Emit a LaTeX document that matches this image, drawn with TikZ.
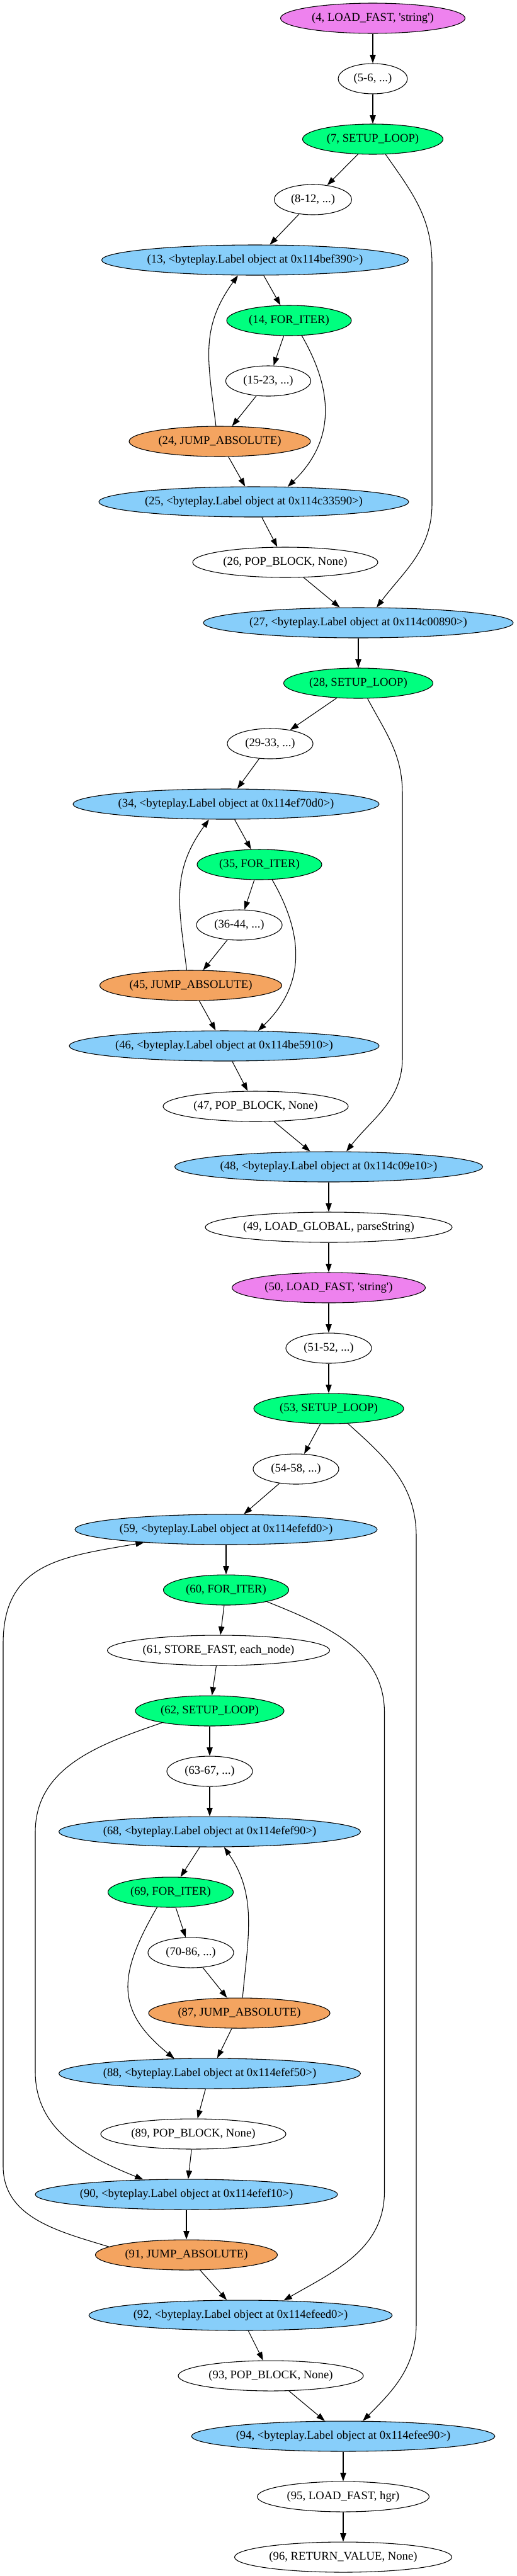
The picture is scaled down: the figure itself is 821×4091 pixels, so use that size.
\documentclass[tikz,border=0pt]{standalone}
\usepackage{fontspec}
\setmainfont{Liberation Serif}[Ligatures=TeXOff]
\usepackage{xcolor}
\usepackage{tikz}
\usetikzlibrary{arrows.meta,shapes.geometric}
\definecolor{opviolet}{HTML}{EE82EE}
\definecolor{opgreen}{HTML}{00FF7F}
\definecolor{opblue}{HTML}{87CEFA}
\definecolor{oporange}{HTML}{F4A460}

\begin{document}
\begin{tikzpicture}[x=0.75pt, y=-0.75pt, >={Triangle[length=10pt,width=7pt]},
  op/.style={ellipse, draw, line width=0.8pt, inner sep=0pt, minimum height=36pt, font=\fontsize{14}{16}\selectfont},
  wd/.style={minimum width=#1*0.75pt},
  plainop/.style={op, fill=white},
  loadop/.style={op, fill=opviolet},
  loopop/.style={op, fill=opgreen},
  labelop/.style={op, fill=opblue},
  jumpop/.style={op, fill=oporange},
  flow/.style={->, line width=0.8pt}]
  \useasboundingbox (0,0) rectangle (821,4091);

  \node[loadop, wd=293] (n4) at (592,29) {(4, LOAD\_FAST, 'string')};
  \node[plainop, wd=110] (n5) at (592,125) {(5-6, ...)};
  \node[loopop, wd=223] (n7) at (592,221) {(7, SETUP\_LOOP)};
  \node[plainop, wd=123] (n8) at (497,317) {(8-12, ...)};
  \node[labelop, wd=487] (n13) at (405,413) {(13, <byteplay.Label object at 0x114bef390>)};
  \node[loopop, wd=198] (n14) at (459,509) {(14, FOR\_ITER)};
  \node[plainop, wd=135] (n15) at (426,605) {(15-23, ...)};
  \node[jumpop, wd=288] (n24) at (349,701) {(24, JUMP\_ABSOLUTE)};
  \node[labelop, wd=492] (n25) at (403,797) {(25, <byteplay.Label object at 0x114c33590>)};
  \node[plainop, wd=294] (n26) at (453,893) {(26, POP\_BLOCK, None)};
  \node[labelop, wd=492] (n27) at (569,989) {(27, <byteplay.Label object at 0x114c00890>)};
  \node[loopop, wd=237] (n28) at (569,1085) {(28, SETUP\_LOOP)};
  \node[plainop, wd=136] (n29) at (429,1181) {(29-33, ...)};
  \node[labelop, wd=486] (n34) at (359,1277) {(34, <byteplay.Label object at 0x114ef70d0>)};
  \node[loopop, wd=198] (n35) at (412,1373) {(35, FOR\_ITER)};
  \node[plainop, wd=136] (n36) at (380,1469) {(36-44, ...)};
  \node[jumpop, wd=289] (n45) at (303,1565) {(45, JUMP\_ABSOLUTE)};
  \node[labelop, wd=492] (n46) at (356,1661) {(46, <byteplay.Label object at 0x114be5910>)};
  \node[plainop, wd=294] (n47) at (406,1757) {(47, POP\_BLOCK, None)};
  \node[labelop, wd=489] (n48) at (522,1853) {(48, <byteplay.Label object at 0x114c09e10>)};
  \node[plainop, wd=392] (n49) at (522,1949) {(49, LOAD\_GLOBAL, parseString)};
  \node[loadop, wd=307] (n50) at (522,2045) {(50, LOAD\_FAST, 'string')};
  \node[plainop, wd=136] (n51) at (522,2141) {(51-52, ...)};
  \node[loopop, wd=238] (n53) at (522,2237) {(53, SETUP\_LOOP)};
  \node[plainop, wd=136] (n54) at (470,2333) {(54-58, ...)};
  \node[labelop, wd=480] (n59) at (359,2429) {(59, <byteplay.Label object at 0x114efefd0>)};
  \node[loopop, wd=199] (n60) at (359,2525) {(60, FOR\_ITER)};
  \node[plainop, wd=353] (n61) at (347,2621) {(61, STORE\_FAST, each\_node)};
  \node[loopop, wd=236] (n62) at (333,2717) {(62, SETUP\_LOOP)};
  \node[plainop, wd=136] (n63) at (333,2813) {(63-67, ...)};
  \node[labelop, wd=479] (n68) at (333,2909) {(68, <byteplay.Label object at 0x114efef90>)};
  \node[loopop, wd=199] (n69) at (271,3005) {(69, FOR\_ITER)};
  \node[plainop, wd=136] (n70) at (303,3101) {(70-86, ...)};
  \node[jumpop, wd=288] (n87) at (380,3197) {(87, JUMP\_ABSOLUTE)};
  \node[labelop, wd=479] (n88) at (333,3293) {(88, <byteplay.Label object at 0x114efef50>)};
  \node[plainop, wd=294] (n89) at (307,3389) {(89, POP\_BLOCK, None)};
  \node[labelop, wd=480] (n90) at (296,3485) {(90, <byteplay.Label object at 0x114efef10>)};
  \node[jumpop, wd=289] (n91) at (296,3581) {(91, JUMP\_ABSOLUTE)};
  \node[labelop, wd=481] (n92) at (382,3677) {(92, <byteplay.Label object at 0x114efeed0>)};
  \node[plainop, wd=294] (n93) at (430,3773) {(93, POP\_BLOCK, None)};
  \node[labelop, wd=481] (n94) at (545,3869) {(94, <byteplay.Label object at 0x114efee90>)};
  \node[plainop, wd=273] (n95) at (545,3965) {(95, LOAD\_FAST, hgr)};
  \node[plainop, wd=345] (n96) at (545,4061) {(96, RETURN\_VALUE, None)};

  % straight flow
  \draw[flow] (n4) -- (n5);
  \draw[flow] (n5) -- (n7);
  \draw[flow] (n7) -- (n8);
  \draw[flow] (n8) -- (n13);
  \draw[flow] (n13) -- (n14);
  \draw[flow] (n14) -- (n15);
  \draw[flow] (n15) -- (n24);
  \draw[flow] (n24) -- (n25);
  \draw[flow] (n25) -- (n26);
  \draw[flow] (n26) -- (n27);
  \draw[flow] (n27) -- (n28);
  \draw[flow] (n28) -- (n29);
  \draw[flow] (n29) -- (n34);
  \draw[flow] (n34) -- (n35);
  \draw[flow] (n35) -- (n36);
  \draw[flow] (n36) -- (n45);
  \draw[flow] (n45) -- (n46);
  \draw[flow] (n46) -- (n47);
  \draw[flow] (n47) -- (n48);
  \draw[flow] (n48) -- (n49);
  \draw[flow] (n49) -- (n50);
  \draw[flow] (n50) -- (n51);
  \draw[flow] (n51) -- (n53);
  \draw[flow] (n53) -- (n54);
  \draw[flow] (n54) -- (n59);
  \draw[flow] (n59) -- (n60);
  \draw[flow] (n60) -- (n61);
  \draw[flow] (n61) -- (n62);
  \draw[flow] (n62) -- (n63);
  \draw[flow] (n63) -- (n68);
  \draw[flow] (n68) -- (n69);
  \draw[flow] (n69) -- (n70);
  \draw[flow] (n70) -- (n87);
  \draw[flow] (n87) -- (n88);
  \draw[flow] (n88) -- (n89);
  \draw[flow] (n89) -- (n90);
  \draw[flow] (n90) -- (n91);
  \draw[flow] (n91) -- (n92);
  \draw[flow] (n92) -- (n93);
  \draw[flow] (n93) -- (n94);
  \draw[flow] (n94) -- (n95);
  \draw[flow] (n95) -- (n96);

  % loop exits and back jumps
  \draw[flow] (n14.-50) to[out=-60, in=44, looseness=1.1] (n25.24);
  \draw[flow] (n35.-50) to[out=-60, in=44, looseness=1.1] (n46.24);
  \draw[flow] (n69.-132) to[out=-120, in=141, looseness=1.3] (n88.157);
  \draw[flow] (n24.104) to[out=97, in=-126, looseness=1.1] (n13.-138);
  \draw[flow] (n45.105) to[out=97, in=-126, looseness=1.1] (n34.-138);
  \draw[flow] (n87.78) to[out=85, in=-55] (n68.-47);

  % long bypass lanes
  \coordinate (b7a) at (686,420);
  \coordinate (b7b) at (686,800);
  \coordinate (b28a) at (639,1260);
  \coordinate (b28b) at (639,1680);
  \coordinate (b53a) at (661,2440);
  \coordinate (b53b) at (661,3690);
  \coordinate (b60a) at (610.5,2720);
  \coordinate (b60b) at (610.5,3480);
  \coordinate (b62a) at (56,2910);
  \coordinate (b62b) at (56,3290);
  \coordinate (b91a) at (5,3440);
  \coordinate (b91b) at (5,2610);
  \draw[flow] (n7.-50) to[out=-55, in=90] (b7a) -- (b7b) to[out=-90, in=53] (n27.40);
  \draw[flow] (n28.-59) to[out=-62, in=90] (b28a) -- (b28b) to[out=-90, in=52] (n48.41);
  \draw[flow] (n53.-38) to[out=-42, in=90] (b53a) -- (b53b) to[out=-90, in=45] (n94.38);
  \draw[flow] (n60.-16) to[out=-22, in=90] (b60a) -- (b60b) to[out=-90, in=30] (n92.19);
  \draw[flow] (n62.-166) to[out=-161, in=90] (b62a) -- (b62b) to[out=-90, in=158] (n90.161);
  \draw[flow] (n91.174) to[out=163, in=-90] (b91a) -- (b91b) to[out=90, in=-170, looseness=1.2] (n59.-171);
\end{tikzpicture}
\end{document}
